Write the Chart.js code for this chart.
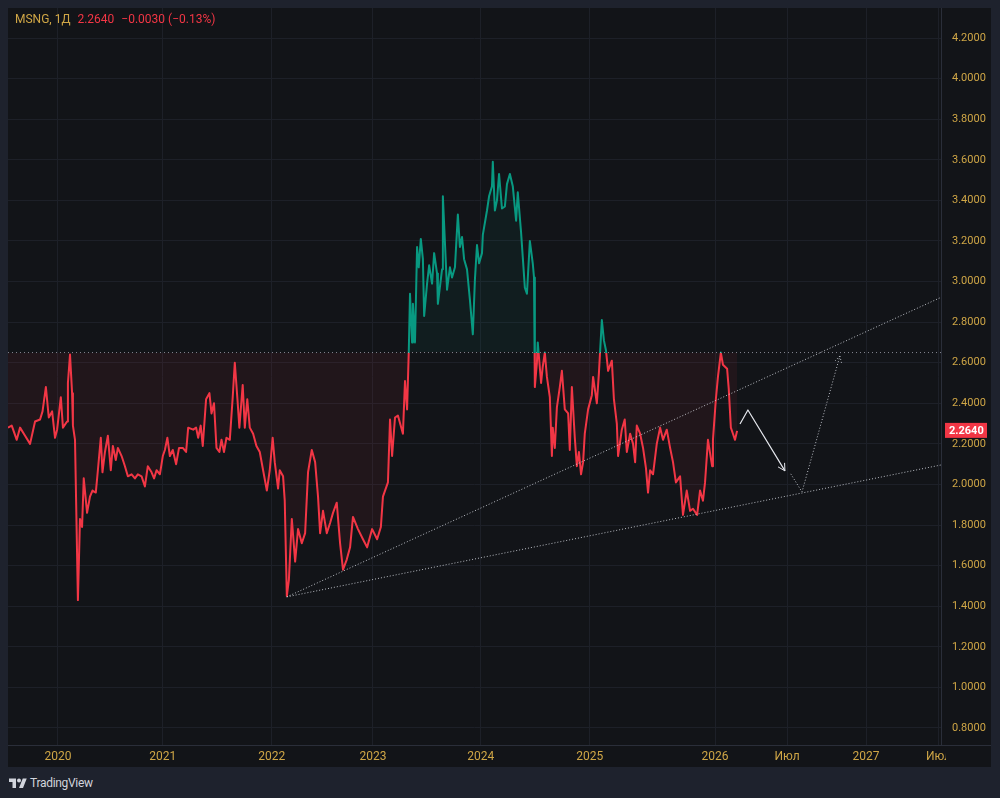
<!DOCTYPE html>
<html>
<head>
<meta charset="utf-8">
<script src="https://cdn.jsdelivr.net/npm/chart.js@4.4.1/dist/chart.umd.min.js"></script>
<style>
html,body{margin:0;padding:0;background:#1e222d;width:1000px;height:798px;overflow:hidden;font-family:Roboto,"Noto Sans",sans-serif}
#panel{position:absolute;left:8px;top:8px;width:983px;height:759px;background:#121418}
#logo{position:absolute;left:9px;top:776px;height:14px;display:flex;align-items:center;color:#d1d4dc;font-size:12px;letter-spacing:-0.3px}
#logo svg{margin-right:3px}
</style>
</head>
<body>
<div id="panel"><canvas id="chart" width="983" height="759"></canvas></div>
<div id="logo"><svg width="18" height="12" viewBox="0 0 36 24"><path d="M14 22H7V10H0V3h14v19zM28 22h-8l7.5-19h8L28 22z" fill="#d1d4dc"/><circle cx="20" cy="7" r="4" fill="#d1d4dc"/></svg>TradingView</div>
<script>
// MSNG, daily. x = trading session index (0 = first session of 2020)
var sessions = [
  -120,-111,-99,-91,-79,-67,-55,-43,-37,-29,
  -22,-14,-7,-2,7,12,22,24,29,34,
  36,41,48,53,58,62,70,77,83,91,
  96,103,107,113,120,127,132,139,144,153,
  161,168,177,185,192,201,209,216,225,231,
  237,245,252,257,263,269,276,284,291,300,
  308,313,325,332,337,343,348,356,364,369,
  375,381,388,393,399,405,413,420,425,431,
  436,444,449,455,461,469,477,485,493,502,
  509,516,521,529,533,541,545,550,555,562,
  570,577,586,594,601,610,618,625,630,637,
  646,654,661,670,678,685,694,702,709,721,
  733,743,755,767,776,781,793,798,803,810,
  817,829,834,839,843,846,851,853,858,863,
  867,872,877,880,887,892,899,904,911,913,
  923,925,930,935,942,947,954,961,966,971,
  976,983,990,997,1002,1007,1012,1019,1021,1031,
  1036,1043,1045,1050,1055,1060,1067,1074,1079,1086,
  1093,1101,1105,1113,1117,1122,1127,1134,1141,1144,
  1146,1151,1153,1161,1165,1170,1175,1182,1187,1189,
  1194,1199,1206,1211,1218,1226,1230,1235,1242,1247,
  1252,1257,1262,1266,1274,1283,1286,1295,1300,1307,
  1312,1317,1322,1331,1336,1343,1346,1355,1362,1367,
  1375,1382,1387,1391,1399,1406,1413,1418,1423,1430,
  1439,1447,1454,1463,1471,1478,1485,1495,1502,1511,
  1519,1526,1536,1543,1550,1555,1562,1572,1574,1581,
  1586,1593,1598,1608,1612,1617,1622,1627,1632
];
var closes = [
  2.28,2.29,2.22,2.28,2.24,2.20,2.31,2.32,2.36,2.48,
  2.33,2.36,2.23,2.27,2.43,2.28,2.31,2.50,2.64,2.45,
  2.29,2.22,1.43,1.83,1.79,2.03,1.86,1.94,1.97,1.96,
  2.07,2.23,2.06,2.16,2.24,2.07,2.19,2.12,2.18,2.14,
  2.09,2.04,2.05,2.03,2.05,2.04,1.99,2.09,2.06,2.03,
  2.07,2.05,2.14,2.17,2.23,2.14,2.17,2.10,2.18,2.18,
  2.16,2.28,2.27,2.28,2.23,2.29,2.19,2.42,2.45,2.35,
  2.40,2.18,2.16,2.22,2.16,2.23,2.22,2.43,2.60,2.43,
  2.28,2.49,2.28,2.42,2.28,2.25,2.19,2.16,2.07,1.97,
  2.07,2.23,2.11,1.98,2.07,2.04,1.92,1.45,1.53,1.83,
  1.62,1.78,1.71,1.76,2.06,2.17,2.11,1.94,1.76,1.87,
  1.76,1.81,1.86,1.91,1.71,1.58,1.63,1.69,1.84,1.78,
  1.73,1.69,1.78,1.73,1.79,1.94,2.01,2.32,2.14,2.33,
  2.34,2.25,2.51,2.37,2.65,2.94,2.70,2.89,2.70,3.17,
  3.07,3.21,3.11,2.83,2.99,3.08,2.99,3.14,3.04,2.89,
  3.06,3.42,3.19,2.96,3.07,3.02,3.07,3.33,3.17,3.22,
  3.11,3.06,2.91,2.74,3.01,3.18,3.09,3.14,3.23,3.35,
  3.42,3.47,3.59,3.35,3.40,3.53,3.36,3.37,3.48,3.53,
  3.47,3.30,3.44,3.24,3.12,2.97,2.94,3.20,3.09,3.02,
  2.48,2.60,2.70,2.50,2.58,2.65,2.53,2.43,2.14,2.28,
  2.18,2.38,2.48,2.56,2.37,2.35,2.17,2.48,2.23,2.09,
  2.16,2.05,2.11,2.25,2.37,2.44,2.53,2.40,2.55,2.81,
  2.71,2.66,2.56,2.61,2.42,2.30,2.14,2.27,2.32,2.16,
  2.25,2.20,2.11,2.29,2.25,2.18,2.08,1.96,2.07,2.05,
  2.20,2.28,2.22,2.27,2.18,2.11,2.01,2.04,1.85,1.97,
  1.87,1.88,1.85,1.97,1.92,2.01,2.22,2.09,2.22,2.42,
  2.53,2.65,2.59,2.57,2.47,2.28,2.25,2.22,2.264
];

var baseline = 2.65;
var lastPrice = 2.264;

var timeTicks = [0, 252, 514, 757, 1016, 1278, 1579, 1752, 1942, 2116];
var timeLabels = ['2020', '2021', '2022', '2023', '2024', '2025', '2026', 'Июл', '2027', 'Июл'];
var priceTicks = [0.8, 1.0, 1.2, 1.4, 1.6, 1.8, 2.0, 2.2, 2.4, 2.6, 2.8, 3.0, 3.2, 3.4, 3.6, 3.8, 4.0, 4.2];

// drawings on the chart
var upperTrendX = [550, 2122], upperTrendY = [1.446, 2.922];
var lowerTrendX = [550, 2122], lowerTrendY = [1.446, 2.096];
var downArrowX = [1639, 1658, 1747], downArrowY = [2.298, 2.367, 2.067];
var upArrowX = [1761, 1788, 1879], upArrowY = [2.052, 1.963, 2.633];

var X_MIN = -120, X_MAX = 2122, Y_MIN = 0.716, Y_MAX = 4.348;
var UP = '#089981', DOWN = '#f23645', GOLD = '#cfa646', GRID = '#1d2028', SEP = '#2a2e39', BG = '#121418';

function pts(xs, ys) {
  return xs.map(function (x, i) { return {x: x, y: ys[i]}; });
}

function splitColor(c) {
  var chart = c.chart, area = chart.chartArea;
  if (!area) return DOWN;
  var yb = chart.scales.y.getPixelForValue(baseline);
  var f = Math.min(1, Math.max(0, (yb - area.top) / (area.bottom - area.top)));
  var g = chart.ctx.createLinearGradient(0, area.top, 0, area.bottom);
  g.addColorStop(0, UP); g.addColorStop(f, UP);
  g.addColorStop(f, DOWN); g.addColorStop(1, DOWN);
  return g;
}

var overlay = {
  id: 'overlay',
  afterDatasetsDraw: function (chart) {
    var ctx = chart.ctx;
    chart.data.datasets.forEach(function (ds, i) {
      if (!ds.arrow) return;
      var p = chart.getDatasetMeta(i).data;
      var a = p[p.length - 2], b = p[p.length - 1];
      var ang = Math.atan2(b.y - a.y, b.x - a.x);
      ctx.save();
      ctx.strokeStyle = ds.borderColor;
      ctx.lineWidth = 1;
      if (ds.borderDash) ctx.setLineDash(ds.borderDash);
      ctx.beginPath();
      [-0.5, 0.5].forEach(function (d) {
        ctx.moveTo(b.x, b.y);
        ctx.lineTo(b.x - 8 * Math.cos(ang + d), b.y - 8 * Math.sin(ang + d));
      });
      ctx.stroke();
      ctx.restore();
    });
  },
  afterDraw: function (chart) {
    var ctx = chart.ctx, area = chart.chartArea;
    ctx.save();
    // time axis ends under the price scale: cut the last label there
    ctx.fillStyle = BG;
    ctx.fillRect(area.right + 5, area.bottom + 1, chart.width - area.right - 5, chart.height - area.bottom);
    ctx.fillStyle = SEP;
    ctx.fillRect(area.right, area.bottom, chart.width - area.right, 1);
    // legend
    ctx.font = '12px Roboto, sans-serif';
    ctx.textBaseline = 'middle';
    var x = area.left + 7, y = 12;
    ctx.fillStyle = GOLD;
    ctx.fillText('MSNG, 1Д', x, y);
    x += ctx.measureText('MSNG, 1Д').width + 7;
    ctx.fillStyle = DOWN;
    ctx.fillText('2.2640', x, y);
    x += ctx.measureText('2.2640').width + 7;
    ctx.fillText('−0.0030 (−0.13%)', x, y);
    // last price label
    var py = chart.scales.y.getPixelForValue(lastPrice);
    ctx.fillStyle = DOWN;
    ctx.fillRect(area.right + 4, py - 8, 42, 15);
    ctx.fillStyle = '#ffffff';
    ctx.font = 'bold 11px Roboto, sans-serif';
    ctx.fillText('2.2640', area.right + 8, py);
    ctx.restore();
  }
};

var dotted = 'rgba(215,218,226,0.85)';

new Chart(document.getElementById('chart'), {
  type: 'line',
  data: {
    datasets: [
      {data: pts([X_MIN, X_MAX], [baseline, baseline]), borderColor: 'rgba(170,174,186,0.75)', borderWidth: 1, borderDash: [1, 3], order: 1},
      {data: pts(upperTrendX, upperTrendY), borderColor: dotted, borderWidth: 1, borderDash: [1, 2], order: 1},
      {data: pts(lowerTrendX, lowerTrendY), borderColor: dotted, borderWidth: 1, borderDash: [1, 2], order: 1},
      {data: pts(downArrowX, downArrowY), borderColor: '#e6e8ee', borderWidth: 1.2, order: 1, arrow: true},
      {data: pts(upArrowX, upArrowY), borderColor: dotted, borderWidth: 1, borderDash: [1, 2], order: 1, arrow: true},
      {
        label: 'MSNG',
        data: pts(sessions, closes),
        borderColor: splitColor,
        borderWidth: 2,
        fill: {target: {value: baseline}, above: 'rgba(8,153,129,0.07)', below: 'rgba(242,54,69,0.07)'},
        order: 2
      }
    ]
  },
  options: {
    responsive: false,
    animation: false,
    events: [],
    elements: {point: {radius: 0}, line: {tension: 0, borderJoinStyle: 'round'}},
    layout: {padding: 0},
    plugins: {legend: {display: false}, tooltip: {enabled: false}},
    scales: {
      x: {
        type: 'linear', min: X_MIN, max: X_MAX,
        afterFit: function (s) { s.height = 22; s.paddingLeft = 0; s.paddingRight = 0; },
        afterBuildTicks: function (s) { s.ticks = timeTicks.map(function (v) { return {value: v}; }); },
        ticks: {
          autoSkip: false, maxRotation: 0, padding: 5, color: GOLD,
          font: {family: '"Liberation Sans Narrow", Roboto, sans-serif', size: 12},
          callback: function (v, i) { return timeLabels[i]; }
        },
        grid: {color: GRID, drawTicks: false},
        border: {color: SEP}
      },
      y: {
        position: 'right', min: Y_MIN, max: Y_MAX,
        afterFit: function (s) { s.width = 50; s.paddingTop = 0; s.paddingBottom = 0; },
        afterBuildTicks: function (s) { s.ticks = priceTicks.map(function (v) { return {value: v}; }); },
        ticks: {
          padding: 11, color: GOLD, font: {family: 'Roboto, sans-serif', size: 11},
          callback: function (v) { return v.toFixed(4); }
        },
        grid: {color: GRID, drawTicks: false},
        border: {color: SEP}
      }
    }
  },
  plugins: [overlay]
});
</script>
</body>
</html>
